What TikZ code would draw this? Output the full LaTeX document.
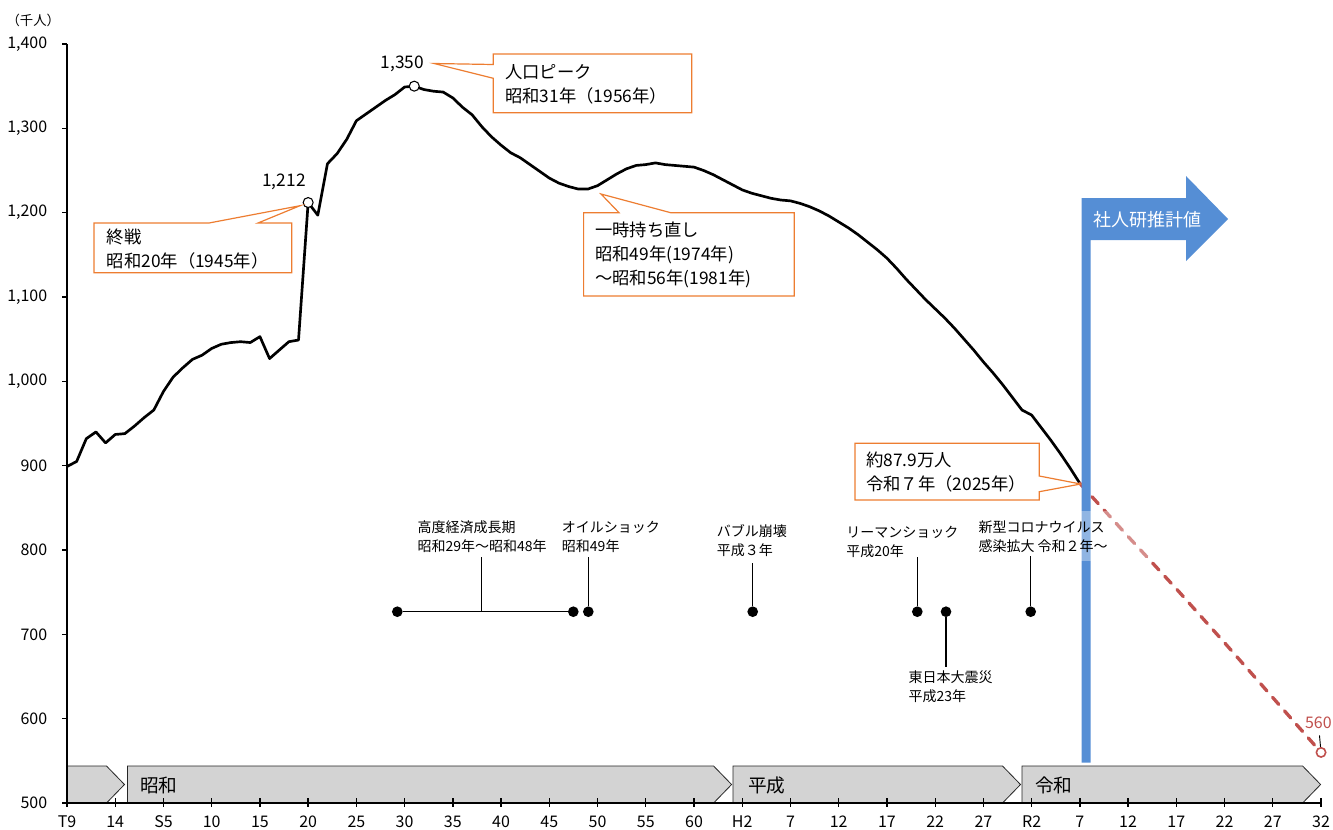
\documentclass[tikz,border=0pt]{standalone}
\usepackage{fontspec}
\setmainfont{Noto Sans CJK JP}
\usetikzlibrary{positioning}

\definecolor{calloutorange}{HTML}{ED7D31}
\definecolor{eragray}{HTML}{D3D3D3}
\definecolor{estblue}{HTML}{558ED5}
\definecolor{estred}{HTML}{C0504D}

\begin{document}
\begin{tikzpicture}[
    x=0.75pt, y=-0.75pt,
    axisline/.style={draw=black, line width=1.1pt},
    ticklabel/.style={font=\fontsize{12}{14}\selectfont, inner sep=0pt},
    erabar/.style={draw=black!85, fill=eragray, line width=0.6pt},
    eralabel/.style={font=\fontsize{14}{16}\selectfont, inner sep=0pt, anchor=west},
    popline/.style={draw=black, line width=2pt, line join=round},
    estline/.style={draw=estred, line width=2.5pt, line cap=round, dash pattern=on 7pt off 6.5pt},
    markdot/.style={shape=circle, draw=black, fill=white, line width=0.8pt, inner sep=0pt, minimum size=7.5pt},
    estdot/.style={shape=circle, draw=estred, fill=white, line width=1.2pt, inner sep=0pt, minimum size=7pt},
    valuelabel/.style={font=\fontsize{13}{15}\selectfont, inner sep=0pt},
    callout/.style={draw=calloutorange, line width=0.9pt, fill=white},
    callouttext/.style={font=\fontsize{13}{18}\selectfont, align=left, inner sep=0pt, anchor=west},
    eventtext/.style={font=\fontsize{10.5}{14.3}\selectfont, align=left, inner sep=0pt, anchor=west},
    eventdot/.style={shape=circle, fill=black, inner sep=0pt, minimum size=8pt},
    eventline/.style={draw=black, line width=0.9pt},
]
\useasboundingbox (0,0) rectangle (1333,829);

% value axis
\node[font=\fontsize{10}{12}\selectfont, inner sep=0pt] (unit) at (33.3,20.7) {（千人）};
\foreach \lbl [count=\k from 0] in {500,600,700,800,900,{1,000},{1,100},{1,200},{1,300},{1,400}} {
    \draw[line width=1pt] (62,803-84.333*\k) -- (67,803-84.333*\k);
    \node[ticklabel, anchor=east] (ytick\k) at (47.5,803-84.333*\k) {\lbl};
}

% era bars
\foreach \xa/\xb in {67/106.5, 127.5/713.6, 733/1002.5, 1022/1302.6}
    \draw[erabar] (\xa,766) -- (\xb,766) -- (\xb+18,784.5) -- (\xb,803) -- (\xa,803) -- cycle;
\node[eralabel] (showa) at (140,785) {昭和};
\node[eralabel] (heisei) at (748,785) {平成};
\node[eralabel] (reiwa) at (1035,785) {令和};

% year axis
\draw[axisline] (67,44) -- (67,803) -- (1321,803);
\foreach \lbl [count=\k from 0] in {T9,14,S5,10,15,20,25,30,35,40,45,50,55,60,H2,7,12,17,22,27,R2,7,12,17,22,27,32} {
    \draw[line width=1pt] (67+48.231*\k,798) -- (67+48.231*\k,807);
    \node[ticklabel] (xtick\k) at (67+48.231*\k,822) {\lbl};
}

% population, one point a year, then the estimate
\begin{scope}[shift={(67,803)}, x=7.2347pt, y=0.6325pt, shift={(-20,-500)}]
\draw[popline] plot coordinates {
    (20,899) (21,905) (22,932) (23,940) (24,927) (25,937) (26,938) (27,947) (28,957) (29,966)
    (30,988) (31,1005) (32,1016) (33,1026) (34,1031) (35,1039) (36,1044) (37,1046) (38,1047) (39,1046)
    (40,1053) (41,1027) (42,1037) (43,1047) (44,1049) (45,1212) (46,1197) (47,1258) (48,1270) (49,1287)
    (50,1309) (51,1317) (52,1325) (53,1333) (54,1340) (55,1349) (56,1350) (57,1346) (58,1344) (59,1343)
    (60,1336) (61,1325) (62,1316) (63,1302) (64,1290) (65,1280) (66,1271) (67,1265) (68,1257) (69,1249)
    (70,1241) (71,1235) (72,1231) (73,1228) (74,1228) (75,1232) (76,1239) (77,1246) (78,1252) (79,1256)
    (80,1257) (81,1259) (82,1257) (83,1256) (84,1255) (85,1254) (86,1250) (87,1245) (88,1239) (89,1233)
    (90,1227) (91,1223) (92,1220) (93,1217) (94,1215) (95,1214) (96,1211) (97,1207) (98,1202) (99,1196)
    (100,1189) (101,1182) (102,1174) (103,1165) (104,1156) (105,1146) (106,1134) (107,1121) (108,1109) (109,1097)
    (110,1086) (111,1075) (112,1063) (113,1050) (114,1037) (115,1023) (116,1010) (117,996) (118,981) (119,966)
    (120,960) (121,945) (122,930) (123,914) (124,897) (125,879)
};
\draw[estline] plot coordinates {(125,879) (130,816) (135,754) (140,690) (145,625) (150,560)};
\node[markdot] (wardot) at (45,1212) {};
\node[markdot] (peakdot) at (56,1350) {};
\node[estdot] (enddot) at (150,560) {};
\end{scope}

\node[valuelabel] (warvalue) at (284,182) {1,212};
\node[valuelabel] (peakvalue) at (402.5,64) {1,350};
\node[font=\fontsize{12}{14}\selectfont, text=estred, inner sep=0pt] (endvalue) at (1318.3,722.5) {560};
\draw[line width=0.7pt, shorten <=5pt] (endvalue) -- (enddot);

% callouts
\draw[callout] (94,223) -- (209,223) -- (300,205.7) -- (258,223) -- (291.7,223) -- (291.7,272.7) -- (94,272.7) -- cycle;
\node[callouttext] (wartext) at (106.5,248.7) {終戦\\昭和20年（1945年）};

\draw[callout] (493.3,54) -- (691.7,54) -- (691.7,112.7) -- (493.3,112.7) -- (493.3,78.3) -- (434,63.5) -- (493.3,64.5) -- cycle;
\node[callouttext] (peaktext) at (505,84) {人口ピーク\\昭和31年（1956年）};

\draw[callout] (583.6,212.7) -- (619,212.7) -- (601,194) -- (670.7,212.7) -- (794.3,212.7) -- (794.3,296) -- (583.6,296) -- cycle;
\node[callouttext] (recovtext) at (595,254.7) {一時持ち直し\\昭和49年(1974年)\\～昭和56年(1981年)};

\draw[callout] (855,443.3) -- (1039.3,443.3) -- (1039.3,476) -- (1080.7,484) -- (1039.3,491.7) -- (1039.3,500) -- (855,500) -- cycle;
\node[callouttext] (nowtext) at (866,472) {約87.9万人\\令和７年（2025年）};

% estimate arrow
\fill[estblue] (1081.5,762.5) -- (1081.5,198) -- (1186,198) -- (1186,176) -- (1228,219) -- (1186,261) -- (1186,240) -- (1090.7,240) -- (1090.7,762.5) -- cycle;
\node[font=\fontsize{13.5}{15}\selectfont, text=white, inner sep=0pt] (estlabel) at (1147,220) {社人研推計値};

% events
\node[eventdot] (growthstart) at (397.3,611.7) {};
\node[eventdot] (growthend) at (573.3,611.7) {};
\coordinate (growthmid) at (481.7,611.7);
\draw[eventline] (growthstart) -- (growthend);
\draw[eventline] (growthmid) -- ++(0,-55);
\node[eventtext] (growthtext) at (417.3,536.5) {高度経済成長期\\昭和29年～昭和48年};

\node[eventdot] (oildot) at (588.3,611.7) {};
\draw[eventline] (oildot) -- ++(0,-55);
\node[eventtext] (oiltext) at (561.7,536.5) {オイルショック\\昭和49年};

\node[eventdot] (bubbledot) at (752.7,611.7) {};
\draw[eventline] (bubbledot) -- ++(0,-48.4);
\node[eventtext] (bubbletext) at (716.7,541) {バブル崩壊\\平成３年};

\node[eventdot] (lehmandot) at (917.3,611.7) {};
\draw[eventline] (lehmandot) -- ++(0,-54.4);
\node[eventtext] (lehmantext) at (846,542) {リーマンショック\\平成20年};

\node[eventdot] (quakedot) at (946,611.7) {};
\draw[eventline] (quakedot) -- ++(0,55);
\node[eventtext] (quaketext) at (908.3,687) {東日本大震災\\平成23年};

\fill[white, fill opacity=0.35] (975,511) rectangle (1148,561);
\node[eventdot] (coviddot) at (1030.7,611.7) {};
\draw[eventline] (coviddot) -- ++(0,-55.7);
\node[eventtext] (covidtext) at (978.3,537) {新型コロナウイルス\\感染拡大 令和２年～};
\end{tikzpicture}
\end{document}
